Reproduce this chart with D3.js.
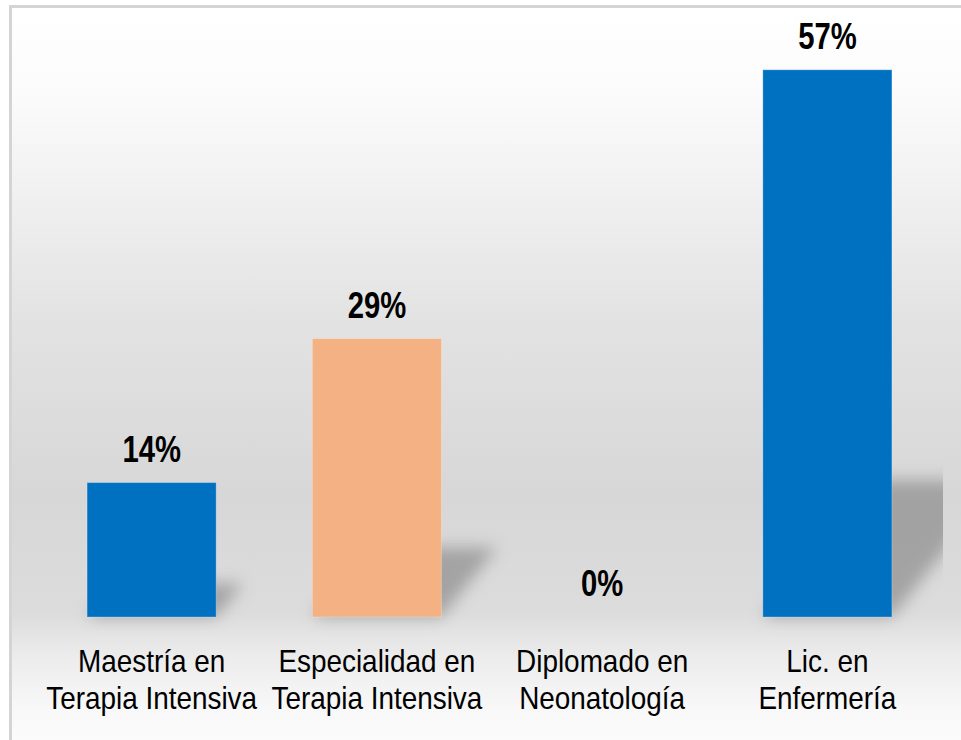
<!DOCTYPE html>
<html>
<head>
<meta charset="utf-8">
<script src="https://cdn.jsdelivr.net/npm/d3@7"></script>
<style>
  html, body { margin: 0; padding: 0; background: #ffffff; }
  svg { display: block; }
  .lbl { font-family: "Liberation Sans", Arial, sans-serif; }
</style>
</head>
<body>
<svg id="chart" width="961" height="740"></svg>
<script>
// Formación académica del personal (porcentaje)
const categories = [
  ["Maestría en", "Terapia Intensiva"],
  ["Especialidad en", "Terapia Intensiva"],
  ["Diplomado en", "Neonatología"],
  ["Lic. en", "Enfermería"]
];
const values = [14, 29, 0, 57];
const valueLabels = ["14%", "29%", "0%", "57%"];
const barColors = ["#0070c0", "#f4b183", "#0070c0", "#0070c0"];

const W = 961, H = 740;
const svg = d3.select("#chart");
const defs = svg.append("defs");

// Chart area background: light at top, grey toward the floor, fading back to white
const bg = defs.append("linearGradient").attr("id", "bgGrad")
  .attr("x1", 0).attr("y1", 0).attr("x2", 0).attr("y2", 1);
[[0, "#ffffff"], [0.12, "#fbfbfb"], [0.42, "#e3e3e3"], [0.66, "#d7d7d7"],
 [0.82, "#dcdcdc"], [0.88, "#ececec"], [0.95, "#f8f8f8"], [1, "#fcfcfc"]]
  .forEach(([o, c]) => bg.append("stop").attr("offset", o).attr("stop-color", c));

const blur = defs.append("filter").attr("id", "shadowBlur")
  .attr("x", "-50%").attr("y", "-50%").attr("width", "200%").attr("height", "200%");
blur.append("feGaussianBlur").attr("stdDeviation", 8);

defs.append("clipPath").attr("id", "plotClip")
  .append("rect").attr("x", 10).attr("y", 6).attr("width", 933).attr("height", 740);

// Frame
svg.append("rect").attr("x", 10).attr("y", 6).attr("width", W).attr("height", H)
  .attr("fill", "url(#bgGrad)");
svg.append("path")
  .attr("d", `M10.5,${H} L10.5,6.5 L${W},6.5`)
  .attr("fill", "none").attr("stroke", "#d4d4d4").attr("stroke-width", 3);

const x = d3.scaleBand()
  .domain(d3.range(categories.length))
  .range([39, 940])
  .paddingInner(0.427)
  .paddingOuter(0.2135);

const y = d3.scaleLinear().domain([0, 60]).range([617, 41]);

const plot = svg.append("g").attr("clip-path", "url(#plotClip)");

// Perspective shadows cast behind each bar
plot.selectAll("path.shadow")
  .data(values)
  .join("path")
  .attr("class", "shadow")
  .attr("d", (v, i) => {
    const x0 = x(i), x1 = x(i) + x.bandwidth();
    const h = y(0) - y(v);
    if (h <= 0) return "";
    const sh = h * 0.25, dx = h * 0.2;
    return `M${x0},${y(0)} L${x1},${y(0)} L${x1 + dx},${y(0) - sh} L${x0 + dx},${y(0) - sh} Z`;
  })
  .attr("fill", "#8c8c8c")
  .attr("opacity", 0.7)
  .attr("filter", "url(#shadowBlur)");

// Bars
plot.selectAll("rect.bar")
  .data(values)
  .join("rect")
  .attr("class", "bar")
  .attr("x", (v, i) => x(i))
  .attr("width", x.bandwidth())
  .attr("y", v => y(v))
  .attr("height", v => y(0) - y(v))
  .attr("fill", (v, i) => barColors[i])
  .attr("stroke", "#ffffff")
  .attr("stroke-opacity", 0.25)
  .attr("stroke-width", 1);

// Value labels (condensed bold)
svg.selectAll("text.val")
  .data(values)
  .join("text")
  .attr("class", "val lbl")
  .attr("text-anchor", "middle")
  .attr("font-size", 37)
  .attr("font-weight", "bold")
  .attr("fill", "#000")
  .attr("transform", (v, i) => `translate(${x(i) + x.bandwidth() / 2},${y(v) - 21}) scale(0.79,1)`)
  .text((v, i) => valueLabels[i]);

// Category labels (two lines, condensed)
const cat = svg.selectAll("text.cat")
  .data(categories)
  .join("text")
  .attr("class", "cat lbl")
  .attr("text-anchor", "middle")
  .attr("font-size", 31)
  .attr("fill", "#000")
  .attr("transform", (d, i) => `translate(${x(i) + x.bandwidth() / 2},0) scale(0.9,1)`);
cat.selectAll("tspan")
  .data(d => d)
  .join("tspan")
  .attr("x", 0)
  .attr("y", (d, j) => 672 + j * 37)
  .text(d => d);
</script>
</body>
</html>
